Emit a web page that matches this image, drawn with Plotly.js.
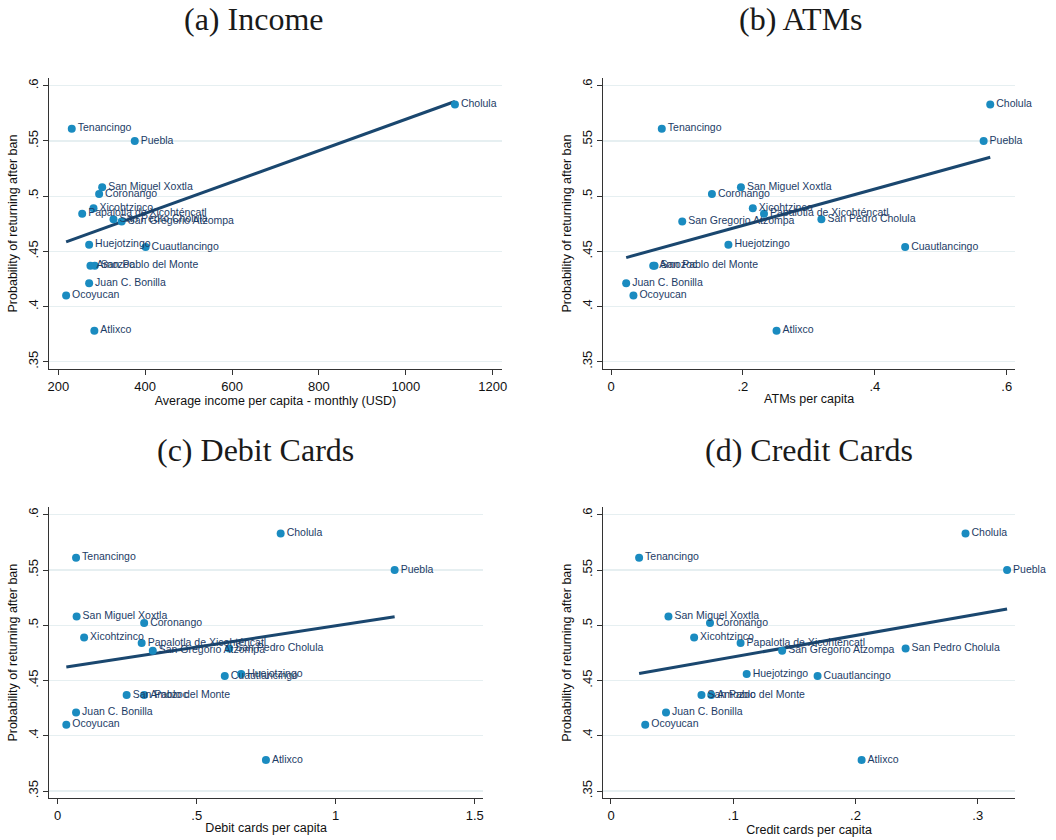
<!DOCTYPE html>
<html>
<head>
<meta charset="utf-8">
<script src="https://cdn.plot.ly/plotly-3.0.1.min.js"></script>
<style>html,body{margin:0;padding:0;background:#fff;}#chart{width:1056px;height:840px;}</style>
</head>
<body>
<div id="chart"></div>
<script>
// Municipality names
const names = ["Cholula","Tenancingo","Puebla","San Miguel Xoxtla","Coronango","Xicohtzinco",
  "Papalotla de Xicohténcatl","San Pedro Cholula","San Gregorio Atzompa","Huejotzingo","Cuautlancingo",
  "Amozoc","San Pablo del Monte","Juan C. Bonilla","Ocoyucan","Atlixco"];
// Probability of returning after ban
const probReturn = [0.583,0.561,0.550,0.508,0.502,0.489,0.484,0.479,0.477,0.456,0.454,0.437,0.437,0.421,0.410,0.378];
// (a) Average income per capita - monthly (USD)
const income = [1113,231,376,301,294,281,255,327,346,271,401,274,284,271,218,283];
// (b) ATMs per capita
const atms = [0.575,0.077,0.565,0.197,0.153,0.215,0.232,0.319,0.108,0.178,0.446,0.064,0.066,0.023,0.034,0.251];
// (c) Debit cards per capita
const debit = [0.802,0.066,1.212,0.068,0.311,0.095,0.302,0.617,0.342,0.660,0.601,0.311,0.248,0.066,0.031,0.749];
// (d) Credit cards per capita
const credit = [0.290,0.023,0.324,0.047,0.081,0.068,0.106,0.241,0.140,0.111,0.169,0.082,0.074,0.045,0.028,0.205];

const panelTitles = ["(a) Income","(b) ATMs","(c) Debit Cards","(d) Credit Cards"];
const xTitles = ["Average income per capita - monthly (USD)","ATMs per capita","Debit cards per capita","Credit cards per capita"];
const yTitle = "Probability of returning after ban";
const yTickVals = [0.35,0.4,0.45,0.5,0.55,0.6];
const yTickText = [".35",".4",".45",".5",".55",".6"];
const xTickVals = [[200,400,600,800,1000,1200],[0,0.2,0.4,0.6],[0,0.5,1,1.5],[0,0.1,0.2,0.3]];
const xTickText = [["200","400","600","800","1000","1200"],["0",".2",".4",".6"],["0",".5","1","1.5"],["0",".1",".2",".3"]];

const xs = [income, atms, debit, credit];

function olsLine(x, y) {
  const n = x.length;
  let mx = 0, my = 0;
  for (let i = 0; i < n; i++) { mx += x[i]; my += y[i]; }
  mx /= n; my /= n;
  let sxy = 0, sxx = 0;
  for (let i = 0; i < n; i++) { sxy += (x[i]-mx)*(y[i]-my); sxx += (x[i]-mx)*(x[i]-mx); }
  const b = sxy / sxx, a = my - b*mx;
  const lo = Math.min(...x), hi = Math.max(...x);
  return {x: [lo, hi], y: [a + b*lo, a + b*hi]};
}

const markerColor = "#1a8bc0";
const labelColor = "#1c3c66";
const lineColor = "#1a476f";
const sans = "Liberation Sans, Arial, sans-serif";

const traces = [];
xs.forEach((xv, k) => {
  const ax = k === 0 ? "" : String(k+1);
  const fit = olsLine(xv, probReturn);
  traces.push({
    x: fit.x, y: fit.y, mode: "lines", type: "scatter",
    line: {color: lineColor, width: 3},
    xaxis: "x"+ax, yaxis: "y"+ax, hoverinfo: "skip", showlegend: false
  });
  traces.push({
    x: xv, y: probReturn, text: names, mode: "markers+text", type: "scatter",
    textposition: "middle right",
    textfont: {family: sans, size: 10.5, color: labelColor},
    marker: {color: markerColor, size: 8},
    xaxis: "x"+ax, yaxis: "y"+ax, showlegend: false, cliponaxis: false
  });
});

const xDomains = [[0.0464,0.4754],[0.5713,0.9612],[0.0464,0.4577],[0.5713,0.9612]];
const yDomains = [[0.5607,0.9071],[0.5607,0.9071],[0.0496,0.3964],[0.0496,0.3964]];
const xRanges = [[178.6,1221.4],[-0.0117,0.6126],[-0.0313,1.531],[-0.0063,0.3305]];
const yRange = [0.3434,0.607];

const layout = {
  width: 1056, height: 840,
  margin: {l:0,r:0,t:0,b:0},
  paper_bgcolor: "#ffffff", plot_bgcolor: "#ffffff",
  showlegend: false,
  font: {family: sans, color: "#222"},
  annotations: []
};

for (let k = 0; k < 4; k++) {
  const ax = k === 0 ? "" : String(k+1);
  layout["xaxis"+ax] = {
    domain: xDomains[k], range: xRanges[k], anchor: "y"+ax,
    tickvals: xTickVals[k], ticktext: xTickText[k],
    ticks: "outside", ticklen: 5, tickcolor: "#333", tickwidth: 1,
    showline: true, linecolor: "#333", linewidth: 1,
    showgrid: false, zeroline: false,
    tickfont: {family: sans, size: 13, color: "#111"},
    title: {text: xTitles[k], font: {family: sans, size: 12.5, color: "#111"}, standoff: 1}
  };
  layout["yaxis"+ax] = {
    domain: yDomains[k], range: yRange, anchor: "x"+ax,
    tickvals: yTickVals, ticktext: yTickText, tickangle: -90,
    ticks: "outside", ticklen: 5, tickcolor: "#333", tickwidth: 1,
    showline: true, linecolor: "#333", linewidth: 1,
    showgrid: true, gridcolor: "#e6eff1", gridwidth: 1.2, zeroline: false,
    tickfont: {family: sans, size: 13, color: "#111"},
    title: {text: yTitle, font: {family: sans, size: 12.5, color: "#111"}, standoff: 5}
  };
}

const titlePos = [[253,19],[801,19],[255,450],[809,450]];
titlePos.forEach((p, k) => {
  layout.annotations.push({
    text: panelTitles[k], xref: "paper", yref: "paper",
    x: p[0]/1056, y: 1 - p[1]/840, xanchor: "center", yanchor: "middle",
    showarrow: false,
    font: {family: "Liberation Serif, Times New Roman, serif", size: 32, color: "#1a1a1a"}
  });
});

Plotly.newPlot("chart", traces, layout, {staticPlot: true, displayModeBar: false});
</script>
</body>
</html>
